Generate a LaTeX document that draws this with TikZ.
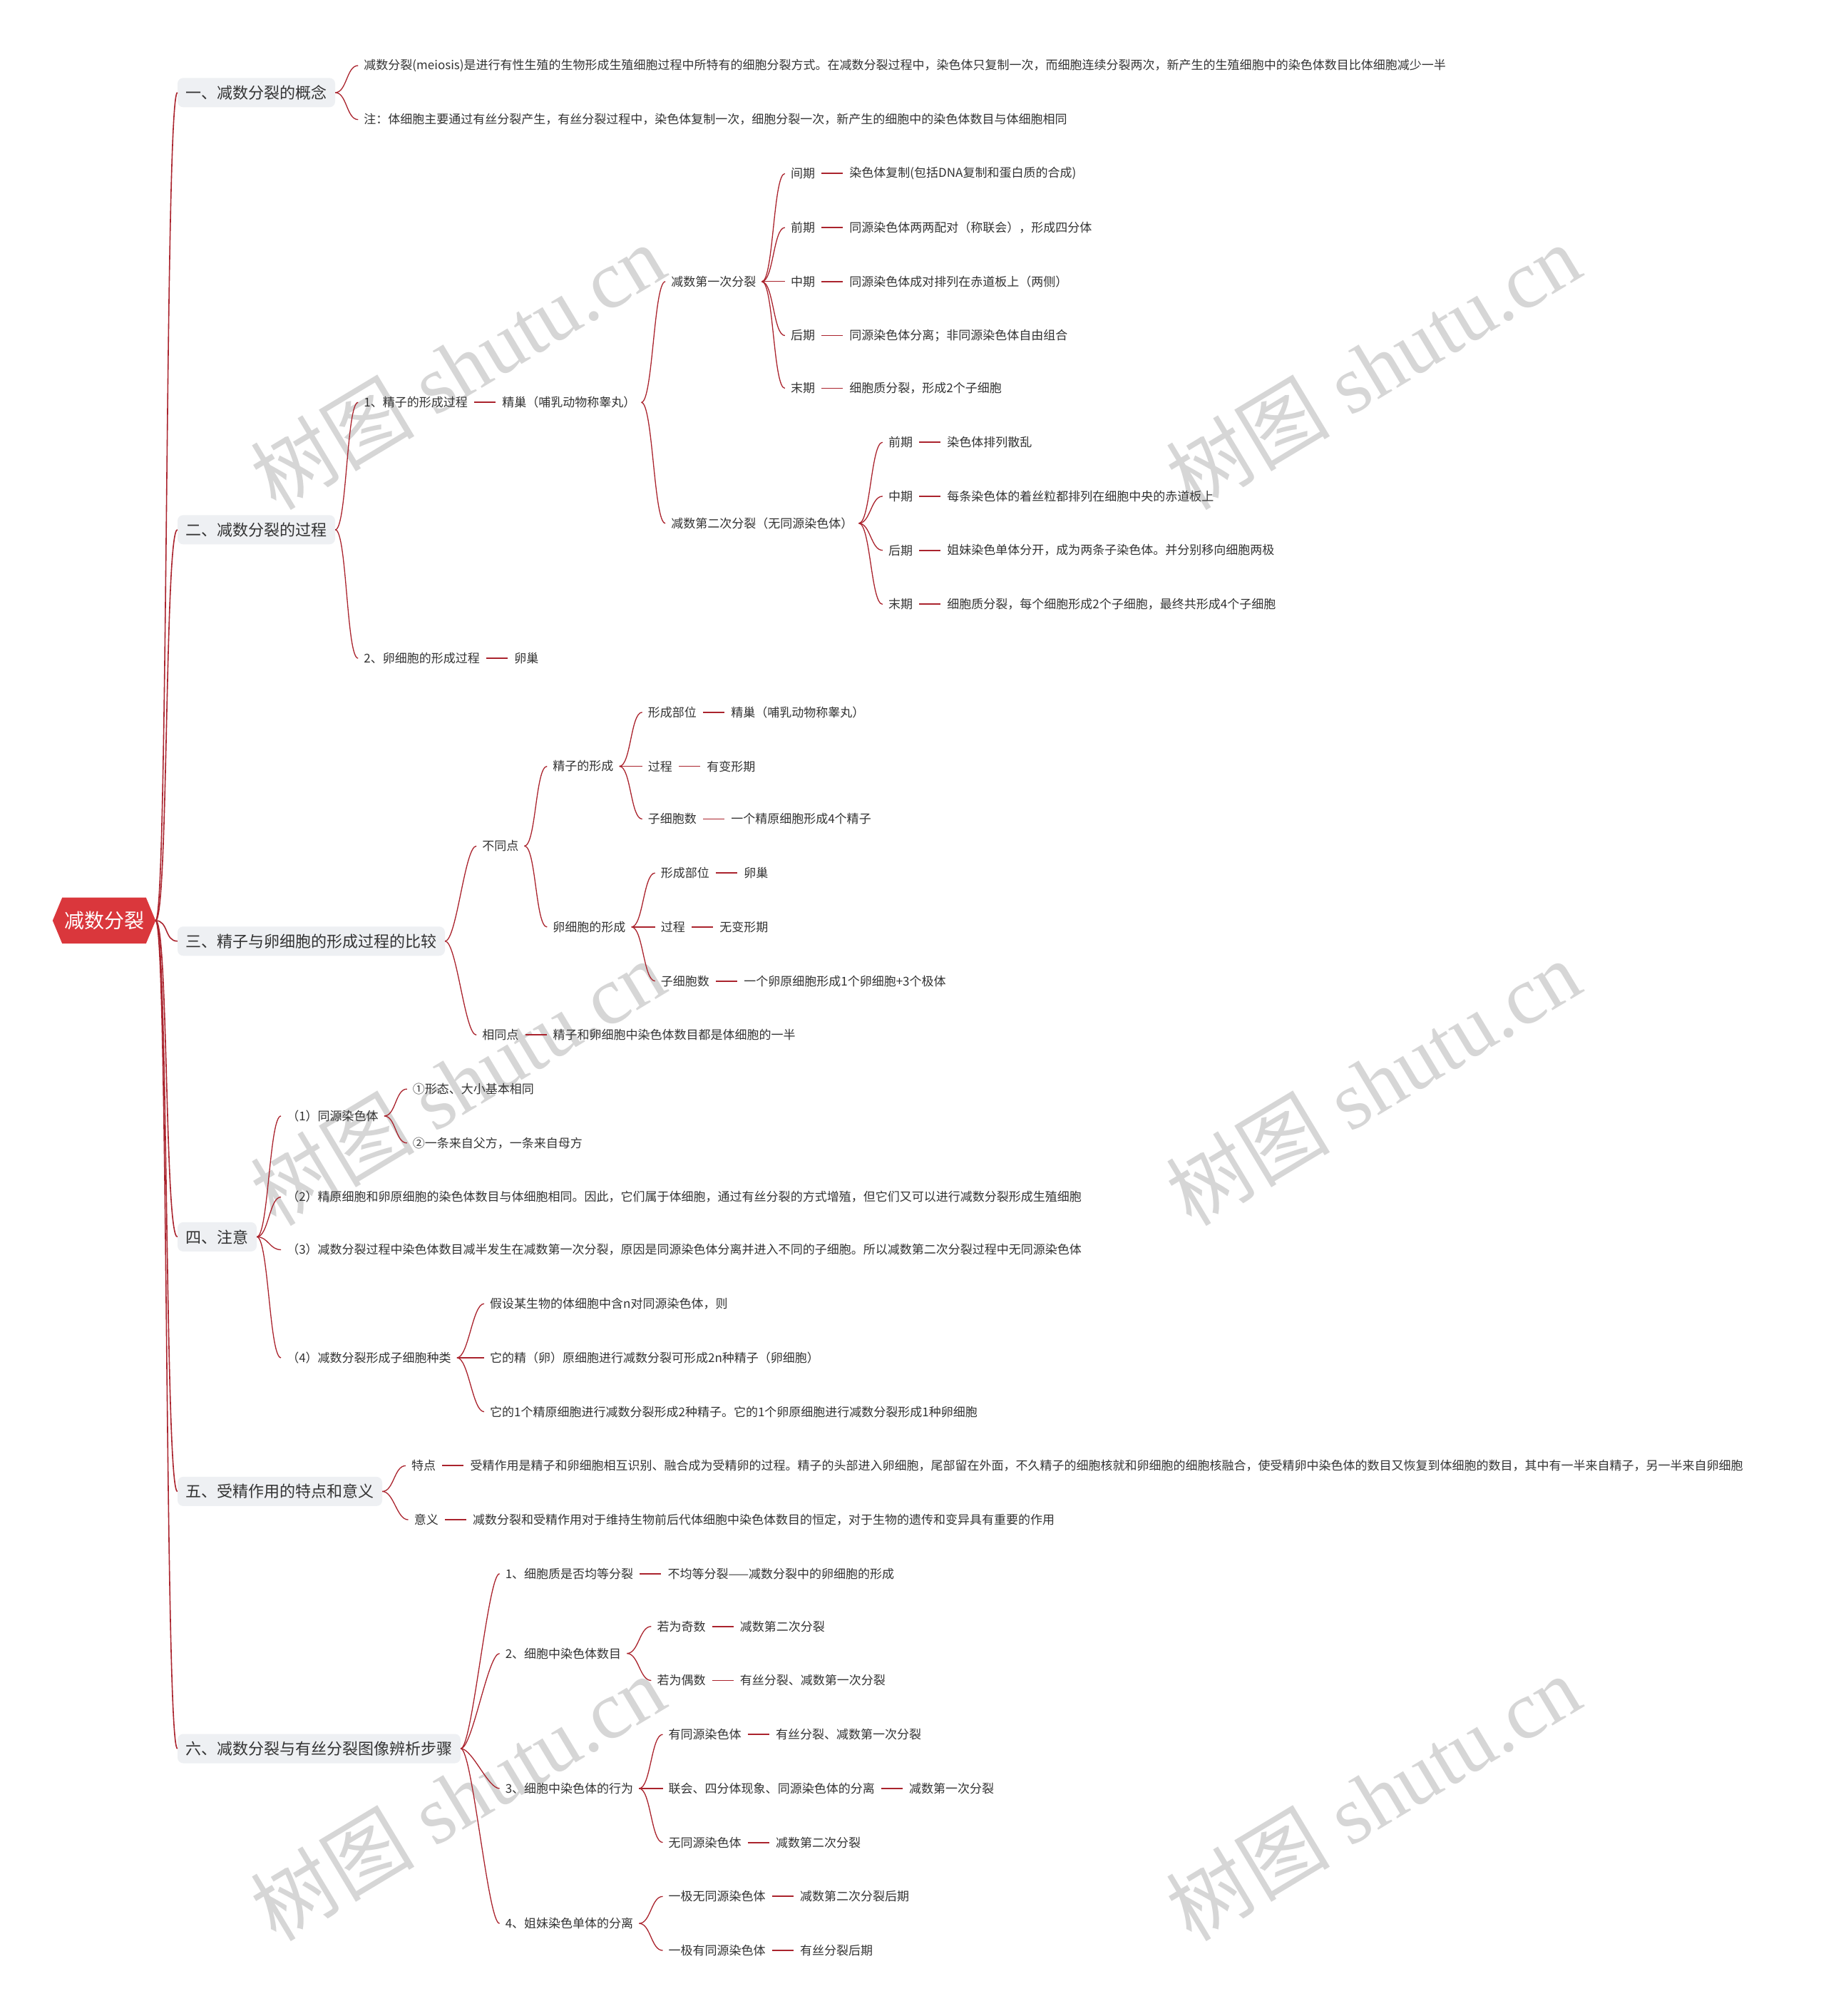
\documentclass[tikz,border=0pt]{standalone}
\usepackage{fontspec}
\setmainfont{Noto Sans CJK SC}
\newfontfamily\wmlat{Liberation Serif}
\usetikzlibrary{positioning,backgrounds}
\definecolor{linered}{RGB}{170,35,45}
\definecolor{rootred}{RGB}{218,55,60}
\definecolor{boxfill}{RGB}{238,240,243}
\definecolor{txtgray}{RGB}{51,51,51}
\definecolor{wmgray}{RGB}{214,214,214}
\begin{document}
\begin{tikzpicture}[x=1.8028pt,y=-1.8028pt,
  txt/.style={font=\fontsize{17}{20}\selectfont, text=txtgray, inner sep=0pt, anchor=west},
  lf/.style={txt, right=48pt of #1},
  lone/.style={fill=boxfill, rounded corners=8pt, font=\fontsize{22}{26}\selectfont, text=txtgray, inner xsep=11.5pt, inner ysep=0pt, minimum height=41pt, anchor=west},
  rootn/.style={font=\fontsize{28}{32}\selectfont, text=white, minimum width=144pt, minimum height=64pt, inner sep=0pt},
  conn/.style={draw=linered, line width=1.3pt},
  trunk/.style={draw=linered, line width=1.6pt},
  leafl/.style={draw=linered, line width=1.8pt},
  wm/.style={text=wmgray, font=\fontsize{115}{115}\selectfont, rotate=31, inner sep=0pt}
]
\useasboundingbox (0,0) rectangle (1420,1568);

% root
\node[rootn] (root) at (81,716) {减数分裂};

% level 1
\node[lone] (s1) at (138,72) {一、减数分裂的概念};
\node[lone] (s2) at (138,412) {二、减数分裂的过程};
\node[lone] (s3) at (138,732) {三、精子与卵细胞的形成过程的比较};
\node[lone] (s4) at (138,962) {四、注意};
\node[lone] (s5) at (138,1160) {五、受精作用的特点和意义};
\node[lone] (s6) at (138,1360) {六、减数分裂与有丝分裂图像辨析步骤};

% section 1
\node[txt] (a1) at (283,51) {减数分裂(meiosis)是进行有性生殖的生物形成生殖细胞过程中所特有的细胞分裂方式。在减数分裂过程中，染色体只复制一次，而细胞连续分裂两次，新产生的生殖细胞中的染色体数目比体细胞减少一半};
\node[txt] (a2) at (283,93) {注：体细胞主要通过有丝分裂产生，有丝分裂过程中，染色体复制一次，细胞分裂一次，新产生的细胞中的染色体数目与体细胞相同};

% section 2
\node[txt] (b1) at (283,313) {1、精子的形成过程};
\node[lf=b1] (Lb1) {精巢（哺乳动物称睾丸）};
\node[txt] (b11) at (522,219) {减数第一次分裂};
\node[txt] (b111) at (615,135) {间期};
\node[lf=b111] (Lb111) {染色体复制(包括DNA复制和蛋白质的合成)};
\node[txt] (b112) at (615,177) {前期};
\node[lf=b112] (Lb112) {同源染色体两两配对（称联会），形成四分体};
\node[txt] (b113) at (615,219) {中期};
\node[lf=b113] (Lb113) {同源染色体成对排列在赤道板上（两侧）};
\node[txt] (b114) at (615,261) {后期};
\node[lf=b114] (Lb114) {同源染色体分离；非同源染色体自由组合};
\node[txt] (b115) at (615,302) {末期};
\node[lf=b115] (Lb115) {细胞质分裂，形成2个子细胞};
\node[txt] (b12) at (522,407) {减数第二次分裂（无同源染色体）};
\node[txt] (b121) at (691,344) {前期};
\node[lf=b121] (Lb121) {染色体排列散乱};
\node[txt] (b122) at (691,386) {中期};
\node[lf=b122] (Lb122) {每条染色体的着丝粒都排列在细胞中央的赤道板上};
\node[txt] (b123) at (691,428) {后期};
\node[lf=b123] (Lb123) {姐妹染色单体分开，成为两条子染色体。并分别移向细胞两极};
\node[txt] (b124) at (691,470) {末期};
\node[lf=b124] (Lb124) {细胞质分裂，每个细胞形成2个子细胞，最终共形成4个子细胞};
\node[txt] (b2) at (283,512) {2、卵细胞的形成过程};
\node[lf=b2] (Lb2) {卵巢};

% section 3
\node[txt] (c1) at (375,658) {不同点};
\node[txt] (c11) at (430,596) {精子的形成};
\node[txt] (c111) at (504,554) {形成部位};
\node[lf=c111] (Lc111) {精巢（哺乳动物称睾丸）};
\node[txt] (c112) at (504,596) {过程};
\node[lf=c112] (Lc112) {有变形期};
\node[txt] (c113) at (504,637) {子细胞数};
\node[lf=c113] (Lc113) {一个精原细胞形成4个精子};
\node[txt] (c12) at (430,721) {卵细胞的形成};
\node[txt] (c121) at (514,679) {形成部位};
\node[lf=c121] (Lc121) {卵巢};
\node[txt] (c122) at (514,721) {过程};
\node[lf=c122] (Lc122) {无变形期};
\node[txt] (c123) at (514,763) {子细胞数};
\node[lf=c123] (Lc123) {一个卵原细胞形成1个卵细胞+3个极体};
\node[txt] (c2) at (375,805) {相同点};
\node[lf=c2] (Lc2) {精子和卵细胞中染色体数目都是体细胞的一半};

% section 4
\node[txt] (d1) at (223,868) {（1）同源染色体};
\node[txt] (d11) at (321,847) {①形态、大小基本相同};
\node[txt] (d12) at (321,889) {②一条来自父方，一条来自母方};
\node[txt] (d2) at (223,931) {（2）精原细胞和卵原细胞的染色体数目与体细胞相同。因此，它们属于体细胞，通过有丝分裂的方式增殖，但它们又可以进行减数分裂形成生殖细胞};
\node[txt] (d3) at (223,972) {（3）减数分裂过程中染色体数目减半发生在减数第一次分裂，原因是同源染色体分离并进入不同的子细胞。所以减数第二次分裂过程中无同源染色体};
\node[txt] (d4) at (223,1056) {（4）减数分裂形成子细胞种类};
\node[txt] (d41) at (381,1014) {假设某生物的体细胞中含n对同源染色体，则};
\node[txt] (d42) at (381,1056) {它的精（卵）原细胞进行减数分裂可形成2n种精子（卵细胞）};
\node[txt] (d43) at (381,1098) {它的1个精原细胞进行减数分裂形成2种精子。它的1个卵原细胞进行减数分裂形成1种卵细胞};

% section 5
\node[txt] (e1) at (320,1140) {特点};
\node[lf=e1] (Le1) {受精作用是精子和卵细胞相互识别、融合成为受精卵的过程。精子的头部进入卵细胞，尾部留在外面，不久精子的细胞核就和卵细胞的细胞核融合，使受精卵中染色体的数目又恢复到体细胞的数目，其中有一半来自精子，另一半来自卵细胞};
\node[txt] (e2) at (322,1182) {意义};
\node[lf=e2] (Le2) {减数分裂和受精作用对于维持生物前后代体细胞中染色体数目的恒定，对于生物的遗传和变异具有重要的作用};

% section 6
\node[txt] (f1) at (393,1224) {1、细胞质是否均等分裂};
\node[lf=f1] (Lf1) {不均等分裂——减数分裂中的卵细胞的形成};
\node[txt] (f2) at (393,1286) {2、细胞中染色体数目};
\node[txt] (f21) at (511,1265) {若为奇数};
\node[lf=f21] (Lf21) {减数第二次分裂};
\node[txt] (f22) at (511,1307) {若为偶数};
\node[lf=f22] (Lf22) {有丝分裂、减数第一次分裂};
\node[txt] (f3) at (393,1391) {3、细胞中染色体的行为};
\node[txt] (f31) at (520,1349) {有同源染色体};
\node[lf=f31] (Lf31) {有丝分裂、减数第一次分裂};
\node[txt] (f32) at (520,1391) {联会、四分体现象、同源染色体的分离};
\node[lf=f32] (Lf32) {减数第一次分裂};
\node[txt] (f33) at (520,1433) {无同源染色体};
\node[lf=f33] (Lf33) {减数第二次分裂};
\node[txt] (f4) at (393,1496) {4、姐妹染色单体的分离};
\node[txt] (f41) at (520,1475) {一极无同源染色体};
\node[lf=f41] (Lf41) {减数第二次分裂后期};
\node[txt] (f42) at (520,1517) {一极有同源染色体};
\node[lf=f42] (Lf42) {有丝分裂后期};

% connectors: root to level 1
\foreach \c in {s1,s2,s3,s4,s5,s6}
  \draw[trunk] (root.east) .. controls +(10,0) and +(-10,0) .. (\c.west);
% level 1 boxes to children
\foreach \p/\c in {s1/a1,s1/a2,s2/b1,s2/b2,s3/c1,s3/c2,s4/d1,s4/d2,s4/d3,s4/d4,s5/e1,s5/e2,s6/f1,s6/f2,s6/f3,s6/f4}
  \draw[conn] (\p.east) .. controls +(9,0) and +(-9,0) .. ([xshift=-8pt]\c.west);
% text parents to children
\foreach \p/\c in {Lb1/b11,Lb1/b12,b11/b111,b11/b112,b11/b113,b11/b114,b11/b115,b12/b121,b12/b122,b12/b123,b12/b124,c1/c11,c1/c12,c11/c111,c11/c112,c11/c113,c12/c121,c12/c122,c12/c123,d1/d11,d1/d12,d4/d41,d4/d42,d4/d43,f2/f21,f2/f22,f3/f31,f3/f32,f3/f33,f4/f41,f4/f42}
  \draw[conn] ([xshift=8pt]\p.east) .. controls +(9,0) and +(-9,0) .. ([xshift=-8pt]\c.west);
% short leaf connectors
\foreach \a in {b1,b111,b112,b113,b114,b115,b121,b122,b123,b124,b2,c111,c112,c113,c121,c122,c123,c2,e1,e2,f1,f21,f22,f31,f32,f33,f41,f42}
  \draw[leafl] ([xshift=9pt]\a.east) -- ([xshift=-9pt]L\a.west);

\begin{scope}[on background layer]
  \fill[white] (0,0) rectangle (1420,1568);
  \foreach \x/\y [count=\i] in {356/285,1068/285,356/842,1068/842,356/1398,1068/1398}
    \node[wm] (wm\i) at (\x,\y) {树图\hspace{0.25em}{\wmlat shutu.cn}};
  \fill[rootred] (root.west) -- ([xshift=13.4pt]root.north west) -- ([xshift=-13.4pt]root.north east) -- (root.east) -- ([xshift=-13.4pt]root.south east) -- ([xshift=13.4pt]root.south west) -- cycle;
\end{scope}
\end{tikzpicture}
\end{document}
